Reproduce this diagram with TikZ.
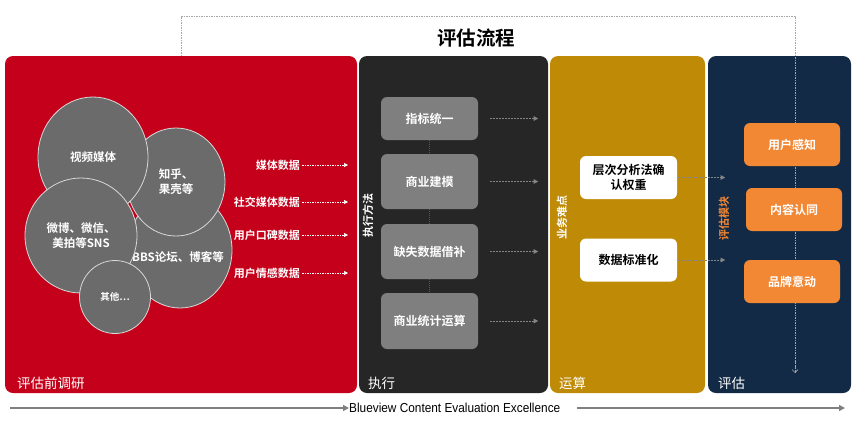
\documentclass[tikz,border=0pt]{standalone}
\usepackage{fontspec}
\usetikzlibrary{arrows.meta,shapes.geometric}
\newfontfamily\cjk{Noto Sans CJK SC}[BoldFont={* Bold}]
\newfontfamily\latf{Liberation Sans}[FakeStretch=0.91]
\definecolor{pred}{HTML}{C5001A}
\definecolor{pdark}{HTML}{262626}
\definecolor{pgold}{HTML}{BF8A06}
\definecolor{pnavy}{HTML}{132A46}
\definecolor{cgrey}{HTML}{6B6B6B}
\definecolor{cline}{HTML}{D9D9D9}
\definecolor{bgrey}{HTML}{7F7F7F}
\definecolor{borange}{HTML}{F28734}
\definecolor{dgrey}{HTML}{A6A6A6}
\tikzset{
  panel/.style={rounded corners=8pt,inner sep=0pt,draw=none},
  bub/.style={ellipse,fill=cgrey,draw=cline,line width=0.8pt,inner sep=0pt,
    text=white,font=\cjk\bfseries\fontsize{11.5}{15}\selectfont,align=center},
  gbox/.style={rounded corners=6pt,fill=bgrey,inner sep=0pt,minimum width=97pt,
    text=white,font=\cjk\bfseries\fontsize{12}{15}\selectfont,align=center},
  wbox/.style={rounded corners=6pt,fill=white,inner sep=0pt,minimum width=97pt,minimum height=43pt,
    text=black,font=\cjk\bfseries\fontsize{12}{15}\selectfont,align=center},
  obox/.style={rounded corners=6pt,fill=borange,inner sep=0pt,minimum width=96pt,minimum height=43pt,
    text=white,font=\cjk\bfseries\fontsize{12}{15}\selectfont,align=center},
  lbl/.style={text=white,font=\cjk\bfseries\fontsize{11}{13}\selectfont,inner sep=0pt},
  corner/.style={text=white,font=\cjk\fontsize{13.5}{15}\selectfont,inner sep=0pt,anchor=west},
  vtext/.style={font=\cjk\bfseries\fontsize{11}{13}\selectfont,inner sep=0pt,rotate=90},
  warr/.style={draw=white,line width=0.6pt,dash pattern=on 1.5pt off 1pt,-{Triangle[length=4pt,width=4pt]}},
  garr/.style={draw=dgrey!80!black,line width=0.6pt,dash pattern=on 2pt off 1pt,-{Triangle[length=4.5pt,width=4.5pt]}},
  gdot/.style={draw=bgrey!70!black,line width=0.8pt,dash pattern=on 1pt off 1pt},
  flow/.style={draw=gray!70,line width=0.7pt,dash pattern=on 1.5pt off 1pt},
  bigarr/.style={draw=bgrey,line width=1.8pt,-{Triangle[length=6pt,width=6pt]}}
}
\begin{document}
\begin{tikzpicture}[x=1pt,y=-1pt]
\useasboundingbox (0,0) rectangle (866,424);
% top dashed flow line
\coordinate (fA) at (181,56);
\coordinate (fB) at (181,16);
\coordinate (fC) at (795,16);
\coordinate (fD) at (795,373);
% panels
\node[panel,fill=pred,minimum width=352pt,minimum height=337pt] (p1) at (181,224.5) {};
\node[panel,fill=pdark,minimum width=189pt,minimum height=337pt] (p2) at (453.5,224.5) {};
\node[panel,fill=pgold,minimum width=155pt,minimum height=337pt] (p3) at (627.5,224.5) {};
\node[panel,fill=pnavy,minimum width=143pt,minimum height=337pt] (p4) at (779.5,224.5) {};
\draw[flow] (fA) -- (fB) -- (fC) -- (fD);
\draw[flow,-{Straight Barb[length=3pt,width=6pt]}] (795,360) -- (fD);
% title
\node[font=\cjk\bfseries\fontsize{19.5}{22}\selectfont,inner sep=0pt] (title) at (476,38) {评估流程};
% bubbles
\node[bub,minimum width=104pt,minimum height=116pt] (c3) at (180,250) {};
\node[text=white,font=\cjk\bfseries\fontsize{11.5}{15}\selectfont,inner sep=0pt] (t3) at (178,257) {BBS论坛、博客等};
\node[bub,minimum width=98pt,minimum height=108pt] (c2) at (176,182) {知乎、\\果壳等};
\node[bub,minimum width=110pt,minimum height=120pt] (c1) at (93,157) {视频媒体};
\node[bub,minimum width=112pt,minimum height=115pt] (c4) at (81,235.5) {微博、微信、\\美拍等SNS};
\node[bub,minimum width=71pt,minimum height=73pt,font=\cjk\bfseries\fontsize{9.5}{12}\selectfont] (c5) at (115,297) {其他…};
% data labels
\node[lbl,anchor=east] (l1) at (300,165) {媒体数据};
\node[lbl,anchor=east] (l2) at (300,202) {社交媒体数据};
\node[lbl,anchor=east] (l3) at (300,235) {用户口碑数据};
\node[lbl,anchor=east] (l4) at (300,273) {用户情感数据};
\foreach \n in {l1,l2,l3,l4} \draw[warr] ([xshift=2pt]\n.east) -- ([xshift=48pt]\n.east);
% execution boxes
\node[gbox,minimum height=43pt] (b1) at (429.5,118.5) {指标统一};
\node[gbox,minimum height=55pt] (b2) at (429.5,181.5) {商业建模};
\node[gbox,minimum height=55pt] (b3) at (429.5,251.5) {缺失数据借补};
\node[gbox,minimum height=56pt] (b4) at (429.5,321) {商业统计运算};
\draw[gdot] (b1.south) -- (b2.north);
\draw[gdot] (b2.south) -- (b3.north);
\draw[gdot] (b3.south) -- (b4.north);
\foreach \n in {b1,b2,b3,b4} \draw[garr] ([xshift=12pt]\n.east) -- ([xshift=60pt]\n.east);
% calculation boxes
\node[wbox] (w1) at (628.5,177.5) {层次分析法确\\认权重};
\node[wbox] (w2) at (628.5,260) {数据标准化};
\draw[garr] ([xshift=1pt]w1.east) -- ([xshift=48pt]w1.east);
\draw[garr] ([xshift=1pt]w2.east) -- ([xshift=48pt]w2.east);
% evaluation boxes
\node[obox] (o1) at (792,144.5) {用户感知};
\node[obox] (o2) at (794,209.5) {内容认同};
\node[obox] (o3) at (792,281.5) {品牌意动};
% vertical labels
\node[vtext,text=white] (v1) at (368,215) {执行方法};
\node[vtext,text=white] (v2) at (562,217) {业务难点};
\node[vtext,text=borange] (v3) at (724,218) {评估模块};
% corner labels
\node[corner] (k1) at (17,383) {评估前调研};
\node[corner] (k2) at (368,383) {执行};
\node[corner] (k3) at (559,383) {运算};
\node[corner] (k4) at (718,383) {评估};
% bottom line
\node[font=\latf\fontsize{13}{15}\selectfont,inner sep=0pt,anchor=west] (bt) at (349,408) {Blueview Content Evaluation Excellence};
\coordinate (s1) at (10,408);
\coordinate (s2) at (577,408);
\coordinate (s3) at (845,408);
\draw[bigarr] (s1) -- (bt.west);
\draw[bigarr] (s2) -- (s3);
\end{tikzpicture}
\end{document}
